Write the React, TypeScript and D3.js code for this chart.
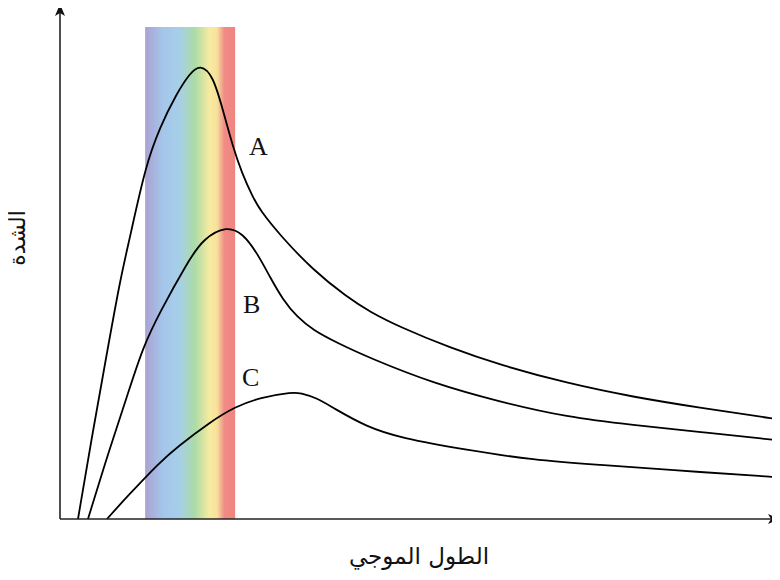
import * as d3 from 'd3';
import React from 'react';

// wavelength in nm, intensity in arbitrary units
const curveNames = ["A", "B", "C"];

const wavelengthA = [104, 166, 223, 277, 318, 380, 441, 511, 564, 606, 659, 700, 741, 778, 823, 852, 934, 1070, 1210, 1304, 1428, 1633, 1839, 2114, 2386, 2661, 2978];
const intensityA = [0, 18.1, 33.7, 48.6, 57.3, 71.5, 79.7, 86.6, 90.6, 92.4, 90.2, 83.1, 75.6, 70.3, 65.4, 62.8, 57.7, 50.6, 45.1, 42.1, 39, 34.8, 31.3, 27.6, 24.8, 22.6, 20.3];

const wavelengthB = [145, 236, 305, 371, 441, 552, 618, 717, 782, 840, 893, 947, 1004, 1070, 1169, 1304, 1563, 1839, 2114, 2386, 2661, 2961];
const intensityB = [0, 14.6, 24.8, 35, 42.1, 52, 57, 59.6, 58, 54.1, 49.2, 44.5, 41.1, 38.4, 35.8, 32.7, 27.6, 23.8, 20.7, 19.1, 17.7, 16.1];

const wavelengthC = [223, 305, 441, 511, 647, 749, 852, 988, 1017, 1087, 1152, 1292, 1428, 1703, 1974, 2250, 2525, 2978];
const intensityC = [0, 4.5, 11.6, 14.6, 19.7, 22.8, 24.7, 25.8, 25.6, 24.6, 22.6, 18.7, 16.5, 14, 12, 11, 10, 8.5];

const visibleRange = [380, 750];
const xTitle = "الطول الموجي";
const yTitle = "الشدة";

const W = 780;
const H = 580;
const x = d3.scaleLinear().domain([30, 2990]).range([60, 780]);
const y = d3.scaleLinear().domain([0, 100]).range([519, 27]);

const spectrum = [
  ["0%", "#aaa2d2"],
  ["20%", "#a4c6ea"],
  ["38%", "#a6cfe8"],
  ["55%", "#acdba7"],
  ["72%", "#f8eba0"],
  ["80%", "#f6e19b"],
  ["88%", "#f08b86"],
  ["100%", "#f0857f"],
];

const series = [
  { name: curveNames[0], xs: wavelengthA, ys: intensityA, lx: 249, ly: 155 },
  { name: curveNames[1], xs: wavelengthB, ys: intensityB, lx: 243, ly: 313 },
  { name: curveNames[2], xs: wavelengthC, ys: intensityC, lx: 242, ly: 386 },
];

const line = d3.line<[number, number]>()
  .x(d => x(d[0]))
  .y(d => y(d[1]))
  .curve(d3.curveBasis);

export default function App() {
  const x0 = x.range()[0];
  const y0 = y.range()[0];
  const bandL = x(visibleRange[0]);
  const bandR = x(visibleRange[1]);
  return (
    <svg width={W} height={H} style={{ display: 'block', margin: '-8px' }}>
      <defs>
        <linearGradient id="spec" x1="0" x2="1" y1="0" y2="0">
          {spectrum.map(([o, c]) => <stop key={o} offset={o} stopColor={c} />)}
        </linearGradient>
      </defs>
      <rect x={bandL} y={y(100)} width={bandR - bandL} height={y0 - y(100)} fill="url(#spec)" />

      {series.map(s => (
        <g key={s.name}>
          <path d={line(s.xs.map((v, i) => [v, s.ys[i]]) as [number, number][]) || ''}
            fill="none" stroke="#000" strokeWidth={1.8} />
          <text x={s.lx} y={s.ly} fontFamily="Liberation Serif" fontSize={26} fill="#111">{s.name}</text>
        </g>
      ))}

      {/* axes */}
      <line x1={x0} y1={y0} x2={772} y2={y0} stroke="#222" strokeWidth={1.6} />
      <line x1={x0} y1={y0} x2={x0} y2={12} stroke="#222" strokeWidth={1.6} />
      <path d={`M${x0},4 L${x0 + 5},16 L${x0},13 L${x0 - 5},16 Z`} fill="#111" />
      <path d={`M780,${y0} L768,${y0 - 5} L771,${y0} L768,${y0 + 5} Z`} fill="#111" />

      <text x={419} y={564} textAnchor="middle" fontFamily="DejaVu Sans" fontSize={23} fill="#111">{xTitle}</text>
      <text transform="translate(25,238) rotate(-90)" textAnchor="middle" fontFamily="DejaVu Sans" fontSize={22} fill="#111">{yTitle}</text>
    </svg>
  );
}
